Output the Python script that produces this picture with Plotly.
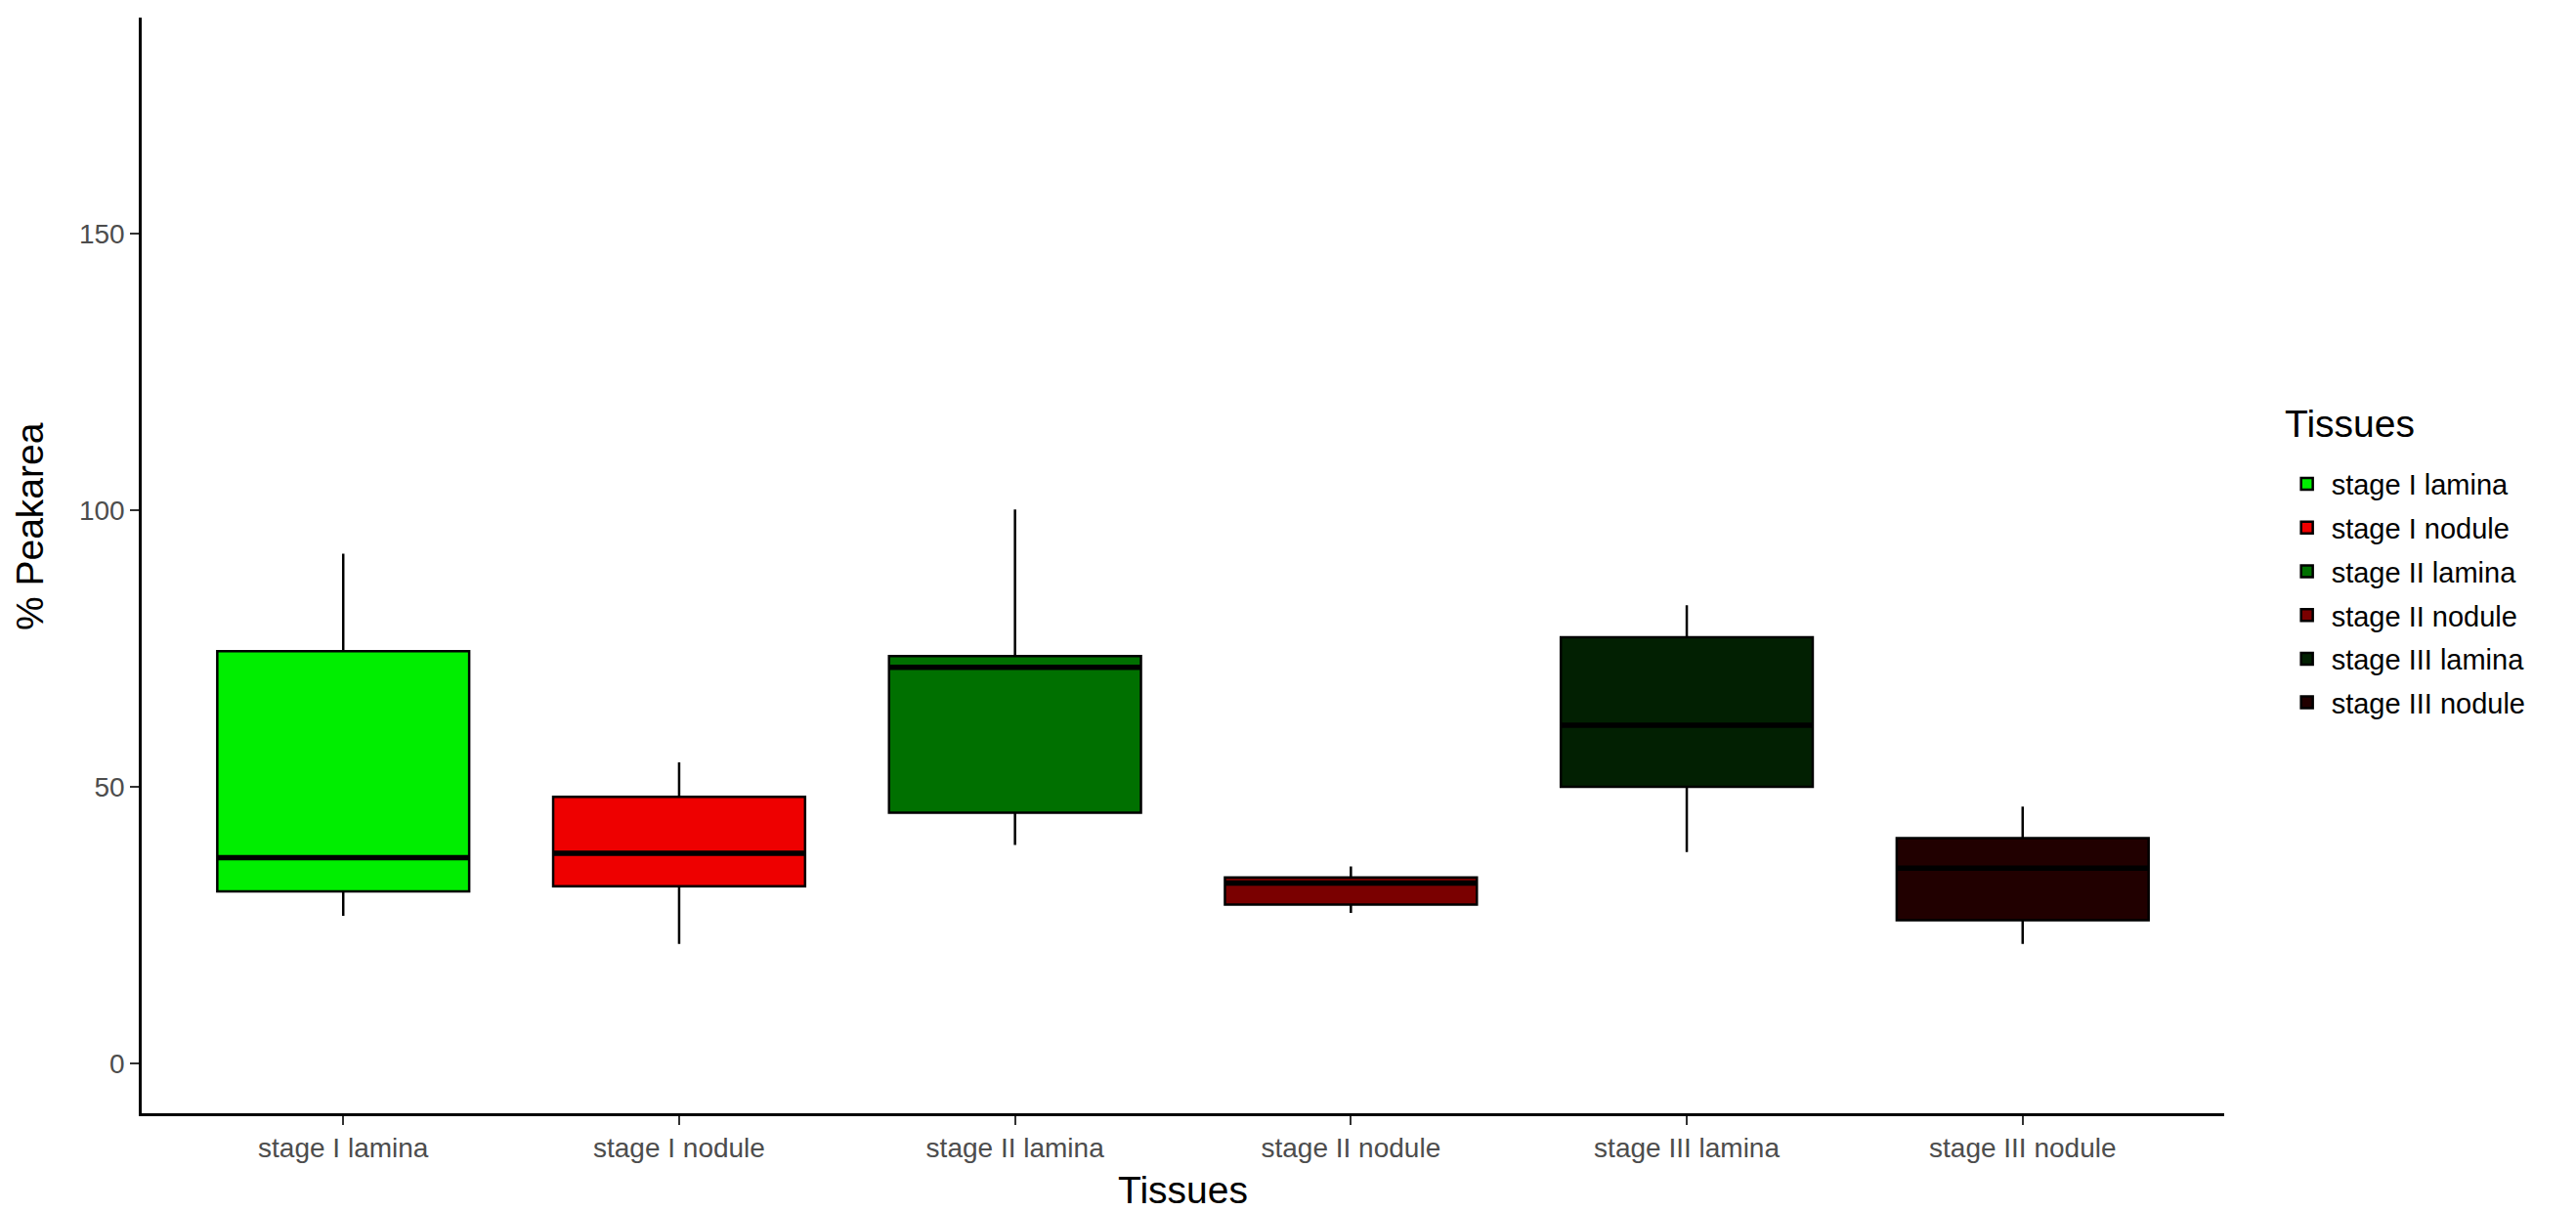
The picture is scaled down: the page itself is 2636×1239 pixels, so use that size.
import plotly.graph_objects as go

categories = ["stage I lamina", "stage I nodule", "stage II lamina",
              "stage II nodule", "stage III lamina", "stage III nodule"]
lower_whisker = [26.7, 21.6, 39.5, 27.2, 38.2, 21.6]
q1_values = [31.1, 32.0, 45.3, 28.7, 50.0, 25.9]
median_values = [37.2, 38.0, 71.6, 32.6, 61.1, 35.3]
q3_values = [74.5, 48.2, 73.6, 33.6, 77.0, 40.7]
upper_whisker = [92.1, 54.4, 100.1, 35.6, 82.8, 46.4]
fill_colors = ["#00EE00", "#EE0000", "#007000", "#7A0000", "#022002", "#210000"]
y_ticks = [0, 50, 100, 150]

FONT = "Liberation Sans, Arial, sans-serif"
BOX_WIDTH = 0.75

fig = go.Figure()
for i, cat in enumerate(categories):
    fig.add_trace(go.Box(
        x=[cat],
        q1=[q1_values[i]], median=[median_values[i]], q3=[q3_values[i]],
        lowerfence=[lower_whisker[i]], upperfence=[upper_whisker[i]],
        name=cat, legendgroup=cat,
        fillcolor=fill_colors[i],
        line=dict(color="black", width=2.5),
        whiskerwidth=0,
        width=BOX_WIDTH,
        boxpoints=False,
        hoverinfo="skip",
    ))

# thicker median segments (ggplot style), drawn on an overlaid numeric axis
mx, my = [], []
for i, m in enumerate(median_values):
    mx += [i - BOX_WIDTH / 2, i + BOX_WIDTH / 2, None]
    my += [m, m, None]
fig.add_trace(go.Scatter(
    x=mx, y=my, mode="lines", xaxis="x2",
    line=dict(color="black", width=5.5),
    showlegend=False, hoverinfo="skip",
))

fig.update_layout(
    width=2636, height=1239,
    paper_bgcolor="white", plot_bgcolor="white",
    margin=dict(l=145, r=360, t=18, b=100, autoexpand=False),
    font=dict(family=FONT, size=28, color="#4D4D4D"),
    boxmode="overlay",
    showlegend=True,
    hovermode=False,
    legend=dict(
        font=dict(size=29, color="black", family=FONT),
        x=1.028, xanchor="left", y=0.597, yanchor="top",
        tracegroupgap=4,
        itemwidth=40,
        bgcolor="rgba(0,0,0,0)",
    ),
    annotations=[
        dict(text="Tissues", xref="paper", yref="paper", x=1.028, y=0.629,
             xanchor="left", yanchor="middle", showarrow=False,
             font=dict(size=39, color="black", family=FONT)),
        dict(text="% Peakarea", xref="paper", yref="paper", x=-0.054, y=0.536,
             xanchor="center", yanchor="middle", textangle=-90, showarrow=False,
             font=dict(size=39, color="black", family=FONT)),
        dict(text="Tissues", xref="paper", yref="paper", x=0.5, y=-0.0696,
             xanchor="center", yanchor="middle", showarrow=False,
             font=dict(size=39, color="black", family=FONT)),
    ],
    xaxis=dict(
        categoryorder="array", categoryarray=categories,
        range=[-0.6, 5.6],
        automargin=False,
        showline=True, linecolor="black", linewidth=2.5,
        ticks="outside", ticklen=9, tickwidth=2, tickcolor="#333333",
        tickfont=dict(size=28, color="#4D4D4D"),
        showgrid=False, zeroline=False,
    ),
    xaxis2=dict(
        overlaying="x", range=[-0.6, 5.6], visible=False,
        showgrid=False, zeroline=False,
    ),
    yaxis=dict(
        range=[-9, 189],
        tickvals=y_ticks,
        automargin=False,
        showline=True, linecolor="black", linewidth=2.5,
        ticks="outside", ticklen=9, tickwidth=2, tickcolor="#333333",
        tickfont=dict(size=28, color="#4D4D4D"),
        showgrid=False, zeroline=False,
    ),
)

fig.write_html(
    "out.html",
    config={"displayModeBar": False},
    post_script="document.body.style.margin='0px';document.body.style.overflow='hidden';",
)
